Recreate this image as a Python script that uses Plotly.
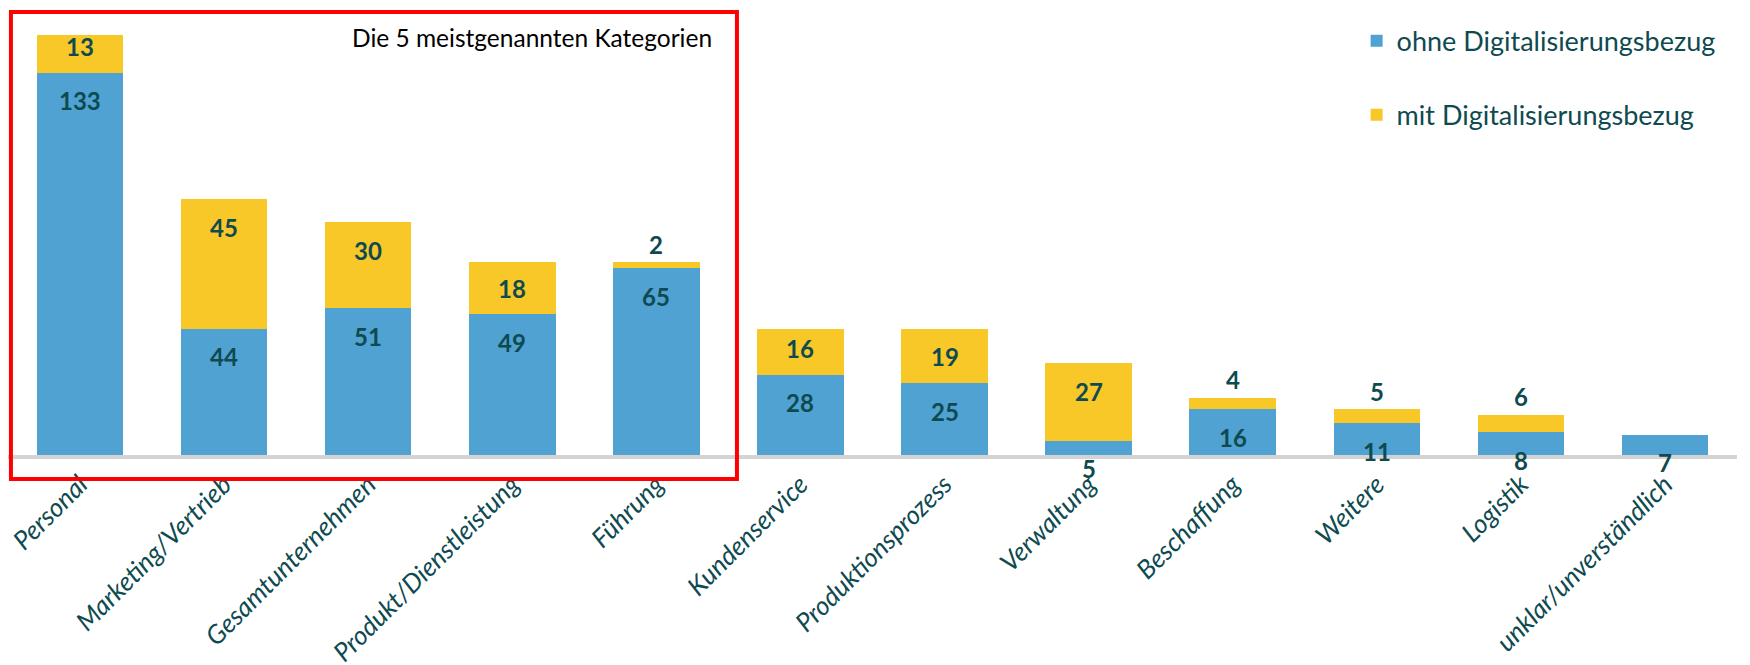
import plotly.graph_objects as go

categories = ["Personal", "Marketing/Vertrieb", "Gesamtunternehmen", "Produkt/Dienstleistung",
              "Führung", "Kundenservice", "Produktionsprozess", "Verwaltung", "Beschaffung",
              "Weitere", "Logistik", "unklar/unverständlich"]
ohne = [133, 44, 51, 49, 65, 28, 25, 5, 16, 11, 8, 7]
mit = [13, 45, 30, 18, 2, 16, 19, 27, 4, 5, 6, 0]

BLUE = "#50A2D2"
YELLOW = "#F8C728"
TEAL = "#0E4A50"
FONT = "Lato"

fig = go.Figure()
fig.add_trace(go.Bar(x=categories, y=ohne, name="ohne Digitalisierungsbezug",
                     marker=dict(color=BLUE, line=dict(width=0)), legendgroup="a"))
fig.add_trace(go.Bar(x=categories, y=mit, name="mit Digitalisierungsbezug",
                     marker=dict(color=YELLOW, line=dict(width=0)), legendgroup="b"))

YMAX = 151
PLOT_H = 434
pxu = PLOT_H / YMAX

# value labels
for c, o, m in zip(categories, ohne, mit):
    fig.add_annotation(x=c, y=o, yshift=-28, text=str(o), showarrow=False,
                       font=dict(family=FONT, size=24, color=TEAL, weight="bold"))
    if m == 0:
        continue
    seg = m * pxu
    if seg >= 30:
        shift = -min(28, seg - 26)
    else:
        shift = 18
    fig.add_annotation(x=c, y=o + m, yshift=shift, text=str(m), showarrow=False,
                       font=dict(family=FONT, size=24, color=TEAL, weight="bold"))

fig.add_annotation(xref="paper", yref="paper", x=0.4083, y=0.962, xanchor="right", yanchor="middle",
                   text="Die 5 meistgenannten Kategorien", showarrow=False,
                   font=dict(family=FONT, size=24.5, color="black"))

fig.add_shape(type="rect", xref="paper", yref="paper", x0=0.0017, x1=0.4216, y0=-0.0553, y1=1.0207,
              line=dict(color="#FF0000", width=4), fillcolor="rgba(0,0,0,0)")

fig.update_layout(
    width=1750, height=665,
    margin=dict(l=0, r=21, t=13, b=218, autoexpand=False),
    barmode="stack", bargap=0.4,
    plot_bgcolor="white", paper_bgcolor="white",
    showlegend=True,
    legend=dict(x=0.780, y=1.010, xanchor="left", yanchor="top", traceorder="grouped",
                tracegroupgap=36, font=dict(family=FONT, size=27, color=TEAL),
                bgcolor="rgba(0,0,0,0)"),
    font=dict(family=FONT, color=TEAL),
)
fig.update_xaxes(showline=True, linecolor="#D3D3D3", linewidth=4, showgrid=False,
                 tickangle=-45, ticks="", automargin=False,
                 tickfont=dict(family=FONT, size=26, color=TEAL, style="italic"),
                 range=[-0.5, 11.5])
fig.update_yaxes(visible=False, range=[0, YMAX], showgrid=False, zeroline=False, automargin=False)

fig.write_html("out.html")
